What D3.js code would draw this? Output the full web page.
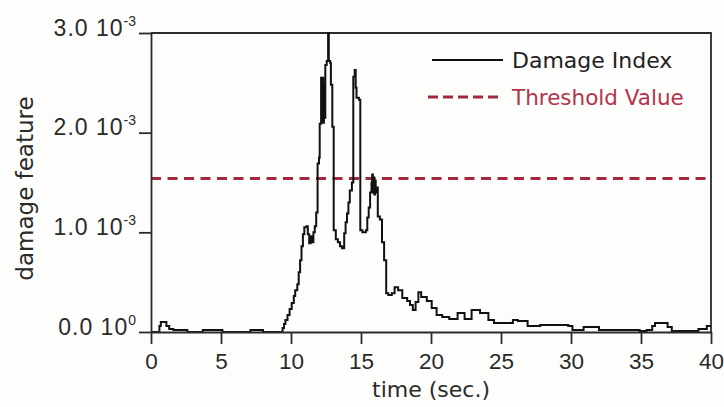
<!DOCTYPE html>
<html>
<head>
<meta charset="utf-8">
<script src="https://cdn.jsdelivr.net/npm/d3@7/dist/d3.min.js"></script>
<style>
  html, body { margin: 0; padding: 0; background: #fdfdfb; }
  svg { display: block; }
</style>
</head>
<body>
<svg id="chart" width="724" height="407"></svg>
<script>
// Damage index time history (time in seconds, feature in units of 1e-3)
const timeSec = [
  0, 0.5, 0.6, 0.7, 1.0, 1.1, 1.3, 1.6, 2.6, 3.7, 5.1, 7.1, 8.0, 9.3,
  9.4, 9.5, 9.6, 9.75, 9.9, 10.05, 10.2, 10.3, 10.45, 10.55, 10.65, 10.75, 10.85, 10.95,
  11.1, 11.2, 11.3, 11.4, 11.5, 11.6, 11.7, 11.8, 11.9, 12.0, 12.05, 12.15, 12.2, 12.25,
  12.3, 12.35, 12.4, 12.45, 12.55, 12.65, 12.7, 12.8, 12.85, 12.95, 13.05, 13.2, 13.35,
  13.5, 13.65, 13.8, 13.9, 14.0, 14.1, 14.2, 14.35, 14.45, 14.55, 14.62, 14.68, 14.85,
  14.95, 15.1, 15.35, 15.45, 15.55, 15.65, 15.75, 15.8, 15.85, 15.9, 15.95, 16.0, 16.05,
  16.1, 16.2, 16.35, 16.5, 16.65, 16.8, 16.95, 17.2, 17.4, 17.65, 17.95, 18.3, 18.5,
  18.7, 18.9, 19.1, 19.3, 19.7, 20.05, 20.4, 20.8, 21.3, 21.9, 22.4, 22.9, 23.5, 24.1,
  24.5, 25.85, 26.2, 26.9, 27.8, 29.8, 30.1, 30.9, 31.7, 32.0, 34.9, 35.4, 35.8, 36.0,
  36.5, 36.9, 37.2, 39.1, 39.7, 40
];
const damageIndex = [
  0, 0, 0.06, 0.10, 0.10, 0.06, 0.03, 0.02, 0, 0.02, 0, 0.02, 0, 0,
  0.04, 0.08, 0.12, 0.17, 0.23, 0.29, 0.36, 0.42, 0.48, 0.60, 0.72, 0.86, 0.98, 1.05,
  1.06, 0.98, 0.89, 0.96, 0.90, 1.00, 1.06, 1.20, 1.69, 1.75, 2.09, 2.55, 2.10, 2.55,
  2.10, 2.50, 2.15, 2.68, 2.72, 3.00, 2.72, 2.70, 2.48, 2.06, 1.02, 0.93, 0.90,
  0.86, 0.84, 0.99, 1.10, 1.19, 1.30, 1.42, 1.50, 2.56, 2.63, 2.45, 2.35, 2.33,
  1.02, 1.00, 1.02, 1.15, 1.25, 1.40, 1.50, 1.58, 1.40, 1.55, 1.38, 1.52, 1.40,
  1.45, 1.16, 1.13, 0.90, 0.72, 0.39, 0.37, 0.39, 0.45, 0.42, 0.34, 0.31, 0.27,
  0.22, 0.30, 0.40, 0.35, 0.31, 0.24, 0.17, 0.15, 0.13, 0.19, 0.13, 0.22, 0.19, 0.12,
  0.09, 0.12, 0.11, 0.06, 0.07, 0.06, 0.02, 0.05, 0.05, 0.02, 0.01, 0.02, 0.06, 0.09,
  0.09, 0.05, 0.01, 0.03, 0.06, 0.06
].map(v => v * 1e-3);

const thresholdValue = 1.54e-3;

const xTicks = [0, 5, 10, 15, 20, 25, 30, 35, 40];
const yTicks = [0, 1e-3, 2e-3, 3e-3];
const yTickMantissa = ["0.0", "1.0", "2.0", "3.0"];
const yTickExponent = ["0", "-3", "-3", "-3"];

const legendLabels = ["Damage Index", "Threshold Value"];

const svg = d3.select("#chart");
const margin = { left: 151, right: 13, top: 33, bottom: 75 };
const W = 724, H = 407;

const x = d3.scaleLinear().domain([0, 40]).range([margin.left, W - margin.right]);
const y = d3.scaleLinear().domain([0, 3e-3]).range([H - margin.bottom, margin.top]);

const axisColor = "#2b2b2b";
const tickFont = "'Liberation Sans', Arial, sans-serif";
const titleFont = "'DejaVu Sans', Verdana, sans-serif";

// frame: top and right borders
svg.append("path")
  .attr("d", `M${x(0)},${y(3e-3)}H${x(40)}V${y(0)}`)
  .attr("fill", "none").attr("stroke", axisColor).attr("stroke-width", 1.8);

// threshold line
svg.append("line")
  .attr("x1", x(0)).attr("x2", x(40))
  .attr("y1", y(thresholdValue)).attr("y2", y(thresholdValue))
  .attr("stroke", "#a3283c").attr("stroke-width", 3)
  .attr("stroke-dasharray", "10,6.5");

// damage index curve
const line = d3.line()
  .x((d, i) => x(timeSec[i]))
  .y(d => y(d))
  .curve(d3.curveStepAfter);

svg.append("path")
  .datum(damageIndex)
  .attr("d", line)
  .attr("fill", "none")
  .attr("stroke", "#111")
  .attr("stroke-width", 2)
  .attr("stroke-linejoin", "miter");

// x axis
const gx = svg.append("g")
  .attr("transform", `translate(0,${y(0)})`)
  .call(d3.axisBottom(x).tickValues(xTicks).tickFormat(d3.format("d"))
    .tickSize(12).tickSizeOuter(0));
gx.select(".domain").attr("stroke", axisColor).attr("stroke-width", 1.8);
gx.selectAll(".tick line").attr("stroke", axisColor).attr("stroke-width", 1.8);
gx.selectAll(".tick text")
  .attr("y", 21)
  .attr("fill", "#2a2a2a")
  .style("font-family", tickFont).style("font-size", "22.5px");

// y axis
const gy = svg.append("g")
  .attr("transform", `translate(${x(0)},0)`)
  .call(d3.axisLeft(y).tickValues(yTicks).tickFormat("").tickSize(12).tickSizeOuter(0));
gy.select(".domain").attr("stroke", axisColor).attr("stroke-width", 1.8);
gy.selectAll(".tick line").attr("stroke", axisColor).attr("stroke-width", 1.8);
gy.selectAll(".tick text").each(function (d, i) {
  const t = d3.select(this)
    .attr("x", -15).attr("dy", null).attr("y", 2)
    .attr("fill", "#2a2a2a")
    .style("font-family", tickFont).style("font-size", "23px")
    .style("letter-spacing", "1px");
  t.text(null);
  t.append("tspan").text(yTickMantissa[i] + " 10");
  t.append("tspan").attr("dy", -10).style("font-size", "14px")
    .style("letter-spacing", "0px").text(yTickExponent[i]);
});

// axis titles
svg.append("text")
  .attr("x", (x(0) + x(40)) / 2).attr("y", 397)
  .attr("text-anchor", "middle")
  .attr("fill", "#2a2a2a")
  .style("font-family", titleFont).style("font-size", "22px")
  .text("time (sec.)");

svg.append("text")
  .attr("transform", `translate(33,${(y(0) + y(3e-3)) / 2 + 6}) rotate(-90)`)
  .attr("text-anchor", "middle")
  .attr("fill", "#2a2a2a")
  .style("font-family", titleFont).style("font-size", "23px")
  .text("damage feature");

// legend
const legend = svg.append("g");
legend.append("line")
  .attr("x1", 432).attr("x2", 503).attr("y1", 60).attr("y2", 60)
  .attr("stroke", "#111").attr("stroke-width", 1.8);
legend.append("text")
  .attr("x", 512).attr("y", 68)
  .attr("fill", "#222")
  .style("font-family", titleFont).style("font-size", "22px")
  .text(legendLabels[0]);
legend.append("line")
  .attr("x1", 428).attr("x2", 503).attr("y1", 97).attr("y2", 97)
  .attr("stroke", "#a3283c").attr("stroke-width", 3)
  .attr("stroke-dasharray", "10,5");
legend.append("text")
  .attr("x", 512).attr("y", 105)
  .attr("fill", "#b3344b")
  .style("font-family", titleFont).style("font-size", "21.5px")
  .text(legendLabels[1]);
</script>
</body>
</html>
